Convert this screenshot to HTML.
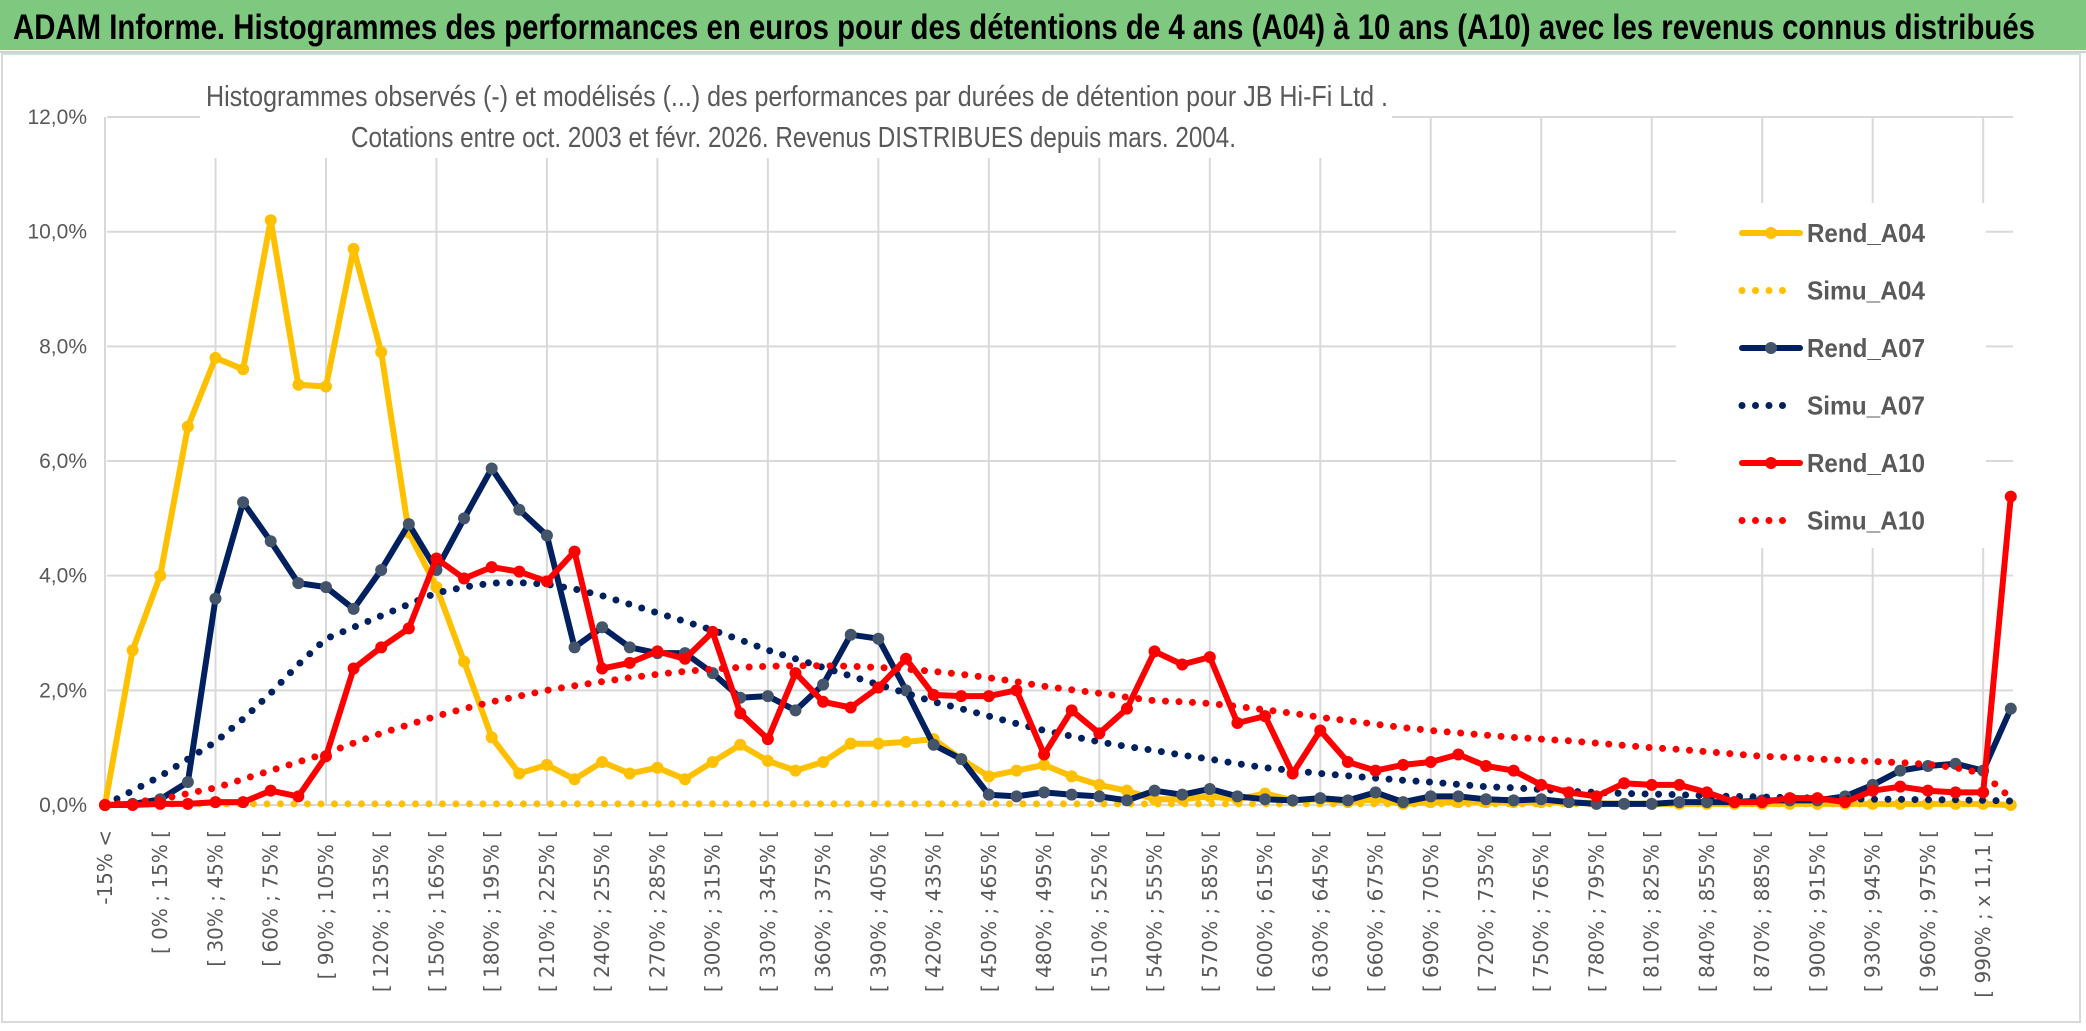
<!DOCTYPE html>
<html><head><meta charset="utf-8">
<style>
html,body{margin:0;padding:0;background:#fff;}
svg{display:block;}
</style></head>
<body>
<svg id="chart" width="2086" height="1031" viewBox="0 0 2086 1031" xmlns="http://www.w3.org/2000/svg">
  <rect x="0" y="0" width="2086" height="1031" fill="#fff"/>
  <rect x="0" y="0" width="2086" height="50" fill="#7ec97f"/>
  <line x1="0" y1="52" x2="2086" y2="52" stroke="#d0d0d0" stroke-width="2"/>
  <text x="13" y="39" font-family="'Liberation Sans Narrow','Liberation Sans',sans-serif" font-weight="bold" font-size="35" fill="#000" textLength="2022" lengthAdjust="spacingAndGlyphs">ADAM Informe. Histogrammes des performances en euros pour des détentions de 4 ans (A04) à 10 ans (A10) avec les revenus connus distribués</text>
  <rect x="2" y="54" width="2078" height="968" fill="none" stroke="#d9d9d9" stroke-width="2"/>
  <g id="grid"></g>
  <g id="yaxis"></g>
  <g id="xaxis"></g>
  <g id="series"></g>
  <rect x="200" y="60" width="1192" height="98" fill="#fff"/>
  <text x="206" y="106" font-family="'Liberation Sans Narrow','Liberation Sans',sans-serif" font-size="29" fill="#595959" textLength="1182" lengthAdjust="spacingAndGlyphs">Histogrammes observés (-) et modélisés (...) des performances par durées de détention pour JB Hi-Fi Ltd .</text>
  <text x="351" y="147" font-family="'Liberation Sans Narrow','Liberation Sans',sans-serif" font-size="29" fill="#595959" textLength="885" lengthAdjust="spacingAndGlyphs">Cotations entre oct. 2003 et févr. 2026. Revenus DISTRIBUES depuis mars. 2004.</text>
  <g id="legend"></g>
</svg>
<script>
const categories = [];
categories.push('-15% <');
categories.push('[ -15% ; 0% [');
for (let k = 0; k < 66; k++) { categories.push('[ ' + (k*15) + '% ; ' + (k*15+15) + '% ['); }
categories.push('[ 990% ; x 11,1 [');
categories.push('x 11,1 <');
const yTicks = [0, 2, 4, 6, 8, 10, 12];
const yTickLabels = ['0,0%', '2,0%', '4,0%', '6,0%', '8,0%', '10,0%', '12,0%'];
const seriesNames = ['Rend_A04', 'Simu_A04', 'Rend_A07', 'Simu_A07', 'Rend_A10', 'Simu_A10'];
const rendA04 = [0,2.7,4.0,6.6,7.8,7.6,10.2,7.33,7.3,9.7,7.9,4.75,3.8,2.5,1.18,0.55,0.7,0.45,0.75,0.55,0.65,0.45,0.75,1.05,0.77,0.6,0.75,1.07,1.07,1.1,1.15,0.8,0.5,0.6,0.7,0.5,0.35,0.25,0.1,0.1,0.15,0.1,0.2,0.08,0.1,0.05,0.1,0.02,0.05,0.05,0.05,0.05,0.05,0.05,0.03,0.02,0.02,0.02,0.02,0.02,0.02,0.02,0.02,0.02,0.02,0.02,0.02,0.02,0.02,0];
const simuA04 = [0,0.02,0.02,0.02,0.02,0.02,0.02,0.02,0.02,0.02,0.02,0.02,0.02,0.02,0.02,0.02,0.02,0.02,0.02,0.02,0.02,0.02,0.02,0.02,0.02,0.02,0.02,0.02,0.02,0.02,0.02,0.02,0.02,0.02,0.02,0.02,0.02,0.02,0.02,0.02,0.02,0.02,0.02,0.02,0.02,0.02,0.02,0.02,0.02,0.02,0.02,0.02,0.02,0.02,0.02,0.02,0.02,0.02,0.02,0.02,0.02,0.02,0.02,0.02,0.02,0.02,0.02,0.02,0.02,0.01];
const rendA07 = [0,0.02,0.1,0.4,3.6,5.28,4.6,3.87,3.8,3.42,4.1,4.9,4.1,5.0,5.87,5.15,4.7,2.75,3.1,2.75,2.65,2.65,2.3,1.87,1.9,1.65,2.1,2.97,2.9,2.0,1.05,0.8,0.18,0.15,0.22,0.18,0.15,0.08,0.25,0.18,0.28,0.15,0.1,0.08,0.12,0.08,0.22,0.05,0.15,0.15,0.1,0.08,0.1,0.05,0.02,0.02,0.02,0.05,0.05,0.05,0.08,0.08,0.08,0.15,0.35,0.6,0.68,0.72,0.6,1.68];
const simuA07 = [0,0.25,0.5,0.8,1.1,1.5,1.95,2.45,2.9,3.1,3.3,3.5,3.7,3.8,3.87,3.88,3.85,3.77,3.65,3.5,3.35,3.2,3.05,2.88,2.7,2.55,2.4,2.25,2.1,1.95,1.8,1.68,1.55,1.42,1.3,1.2,1.1,1.02,0.95,0.87,0.8,0.72,0.65,0.6,0.55,0.51,0.47,0.43,0.4,0.36,0.32,0.3,0.27,0.24,0.22,0.2,0.19,0.18,0.16,0.15,0.14,0.13,0.12,0.11,0.1,0.1,0.09,0.09,0.08,0.07];
const rendA10 = [0,0,0.02,0.02,0.05,0.05,0.25,0.15,0.85,2.38,2.75,3.08,4.3,3.95,4.15,4.07,3.9,4.42,2.38,2.48,2.68,2.55,3.02,1.6,1.15,2.3,1.8,1.7,2.05,2.55,1.92,1.9,1.9,2.0,0.88,1.65,1.25,1.68,2.68,2.45,2.58,1.43,1.55,0.55,1.3,0.75,0.6,0.7,0.75,0.88,0.68,0.6,0.35,0.22,0.15,0.38,0.35,0.35,0.22,0.05,0.05,0.12,0.12,0.05,0.25,0.32,0.25,0.22,0.22,5.38];
const simuA10 = [0,0.05,0.1,0.2,0.3,0.45,0.6,0.75,0.9,1.08,1.25,1.4,1.55,1.68,1.8,1.9,2.0,2.08,2.15,2.22,2.28,2.33,2.37,2.4,2.42,2.43,2.43,2.42,2.4,2.37,2.33,2.28,2.22,2.15,2.07,2.01,1.95,1.88,1.82,1.8,1.77,1.72,1.66,1.6,1.53,1.47,1.41,1.35,1.3,1.26,1.22,1.18,1.15,1.12,1.08,1.04,1.0,0.97,0.93,0.89,0.85,0.83,0.8,0.78,0.76,0.74,0.71,0.65,0.55,0.12];

const NS = 'http://www.w3.org/2000/svg';
const X0 = 105, DX = 27.62, Y0 = 805, YPX = 57.33;
function xPos(i){ return X0 + i*DX; }
function yPos(v){ return Y0 - v*YPX; }
function mk(tag, attrs, parent){ const e = document.createElementNS(NS, tag); for (const k in attrs) e.setAttribute(k, attrs[k]); parent.appendChild(e); return e; }

const grid = document.getElementById('grid');
const xRight = 2013;
yTicks.forEach(function(t){
  const l = mk('line', {x1: 107, x2: xRight, y1: yPos(t), y2: yPos(t), stroke: '#d9d9d9', 'stroke-width': 2}, grid);
  
  
});
for (let i = 0; i < categories.length; i += 4) {
  const l = mk('line', {x1: xPos(i), x2: xPos(i), y1: yPos(12), y2: yPos(0), stroke: '#d9d9d9', 'stroke-width': 2}, grid);
  
  
}

const yaxis = document.getElementById('yaxis');
yTicks.forEach(function(t, k){
  const tx = mk('text', {x: 87, y: yPos(t) + 7, 'text-anchor': 'end', 'font-family': "'Liberation Sans Narrow','Liberation Sans',sans-serif", 'font-size': 21, fill: '#595959'}, yaxis);
  tx.textContent = yTickLabels[k];
  
  
});

const xaxis = document.getElementById('xaxis');
for (let i = 0; i < categories.length - 1; i += 2) {
  const px = xPos(i) + 7, py = 830;
  const tx = mk('text', {x: px, y: py, 'text-anchor': 'end', transform: 'rotate(-90 ' + px + ' ' + py + ')', 'font-family': "'DejaVu Sans',sans-serif", 'font-size': 20, fill: '#595959'}, xaxis);
  tx.textContent = categories[i];
  
  
}

const seriesG = document.getElementById('series');
const styles = [
  {data: rendA04, color: '#ffc000', marker: '#ffc000', dotted: false},
  {data: simuA04, color: '#ffc000', dotted: true},
  {data: rendA07, color: '#002060', marker: '#44546a', dotted: false},
  {data: simuA07, color: '#002060', dotted: true},
  {data: rendA10, color: '#ff0000', marker: '#ff0000', dotted: false},
  {data: simuA10, color: '#ff0000', dotted: true}
];
styles.forEach(function(s, k){
  const g = mk('g', {}, seriesG);
  
  
  const pts = s.data.map(function(v, i){ return xPos(i).toFixed(1) + ',' + yPos(v).toFixed(1); }).join(' ');
  const attrs = {points: pts, fill: 'none', stroke: s.color, 'stroke-linejoin': 'round'};
  if (s.dotted) { attrs['stroke-width'] = 7; attrs['stroke-dasharray'] = '0 13.5'; attrs['stroke-linecap'] = 'round'; }
  else { attrs['stroke-width'] = 6; attrs['stroke-linecap'] = 'round'; }
  const pl = mk('polyline', attrs, g);
  
  
  if (!s.dotted) {
    s.data.forEach(function(v, i){
      const c = mk('circle', {cx: xPos(i), cy: yPos(v), r: 6, fill: s.marker}, g);
      
      
    });
  }
});

const legend = document.getElementById('legend');
mk('rect', {x: 1676, y: 203, width: 310, height: 345, fill: '#fff'}, legend);
styles.forEach(function(s, k){
  const ly = 233 + k*57.5;
  const e = mk('g', {}, legend);
  
  
  if (s.dotted) {
    mk('line', {x1: 1742, x2: 1790, y1: ly, y2: ly, stroke: s.color, 'stroke-width': 7, 'stroke-dasharray': '0 13.5', 'stroke-linecap': 'round'}, e);
  } else {
    mk('line', {x1: 1742, x2: 1800, y1: ly, y2: ly, stroke: s.color, 'stroke-width': 6, 'stroke-linecap': 'round'}, e);
    mk('circle', {cx: 1771, cy: ly, r: 6, fill: s.marker}, e);
  }
  const tx = mk('text', {x: 1807, y: ly + 9, 'font-family': "'Liberation Sans Narrow','Liberation Sans',sans-serif", 'font-size': 26, 'font-weight': 'bold', fill: '#595959', textLength: 118, lengthAdjust: 'spacingAndGlyphs'}, e);
  tx.textContent = seriesNames[k];
  
  
});
</script>
</body></html>
